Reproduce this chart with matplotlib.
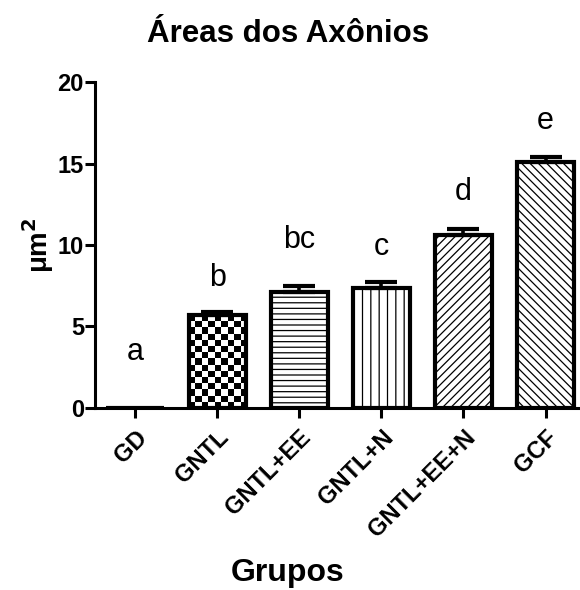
import numpy as np
import matplotlib
matplotlib.use("Agg")
import matplotlib.pyplot as plt

plt.rcParams['font.family'] = ['Liberation Sans', 'DejaVu Sans']
plt.rcParams['hatch.linewidth'] = 0.9

groups = ["GD", "GNTL", "GNTL+EE", "GNTL+N", "GNTL+EE+N", "GCF"]
means = [0.0, 5.7, 7.1, 7.35, 10.6, 15.1]
errs = [0.0, 0.2, 0.4, 0.35, 0.4, 0.3]
letters = ["a", "b", "bc", "c", "d", "e"]
letter_y = [2.95, 7.5, 9.8, 9.4, 12.75, 17.1]
hatches = ["", "", "---", "||", "////", "\\\\\\\\"]

fig = plt.figure(figsize=(5.8, 5.9), dpi=100)
ax = fig.add_axes([0.1638, 0.3085, 0.8362, 0.5525])

x = np.arange(len(groups))
bars = ax.bar(x, means, width=0.7, color="white", edgecolor="black",
              linewidth=3, zorder=3)
for b, h in zip(bars, hatches):
    b.set_hatch(h)

# checkerboard fill for GNTL
cb = bars[1]
cb.set_facecolor("none")
nx, ny = 9, int(np.ceil(cb.get_height() / 0.38))
checker = (np.add.outer(np.arange(ny), np.arange(nx)) % 2).astype(float)
im = ax.imshow(checker, cmap="gray", vmin=0, vmax=1, interpolation="nearest",
               extent=[cb.get_x(), cb.get_x() + cb.get_width(), 0, ny * 0.38],
               origin="lower", aspect="auto", zorder=2.5)
im.set_clip_path(cb)

ax.errorbar(x[1:], means[1:], yerr=[np.zeros(len(x) - 1), errs[1:]], fmt="none",
            ecolor="black", elinewidth=2.6, capsize=11.5, capthick=3, zorder=4)

for xi, lt, ly in zip(x, letters, letter_y):
    ax.text(xi, ly, lt, ha="center", va="baseline", fontsize=22)

ax.set_xlim(-0.49, 5.42)
ax.set_ylim(0, 20)
ax.set_yticks([0, 5, 10, 15, 20])
ax.set_xticks(x)
ax.set_xticklabels(groups, rotation=45, ha="right", rotation_mode="anchor",
                   fontsize=17, fontweight="bold")
for lab in ax.get_yticklabels():
    lab.set_fontweight("bold")
    lab.set_fontsize(17)
ax.tick_params(axis="y", length=7, width=2.2, pad=1)
ax.tick_params(axis="x", length=7, width=2.2, pad=6)
for s in ["top", "right"]:
    ax.spines[s].set_visible(False)
for s in ["left", "bottom"]:
    ax.spines[s].set_linewidth(2.2)

ax.set_ylabel("μm$^\\mathbf{2}$", fontsize=20, fontweight="bold", labelpad=1)
fig.text(288 / 580, 1 - 42 / 590, "Áreas dos Axônios", ha="center", va="baseline",
         fontsize=22.5, fontweight="bold")
fig.text(288 / 580, 1 - 581 / 590, "Grupos", ha="center", va="baseline",
         fontsize=23, fontweight="bold")

fig.savefig("out.png", dpi=100)
